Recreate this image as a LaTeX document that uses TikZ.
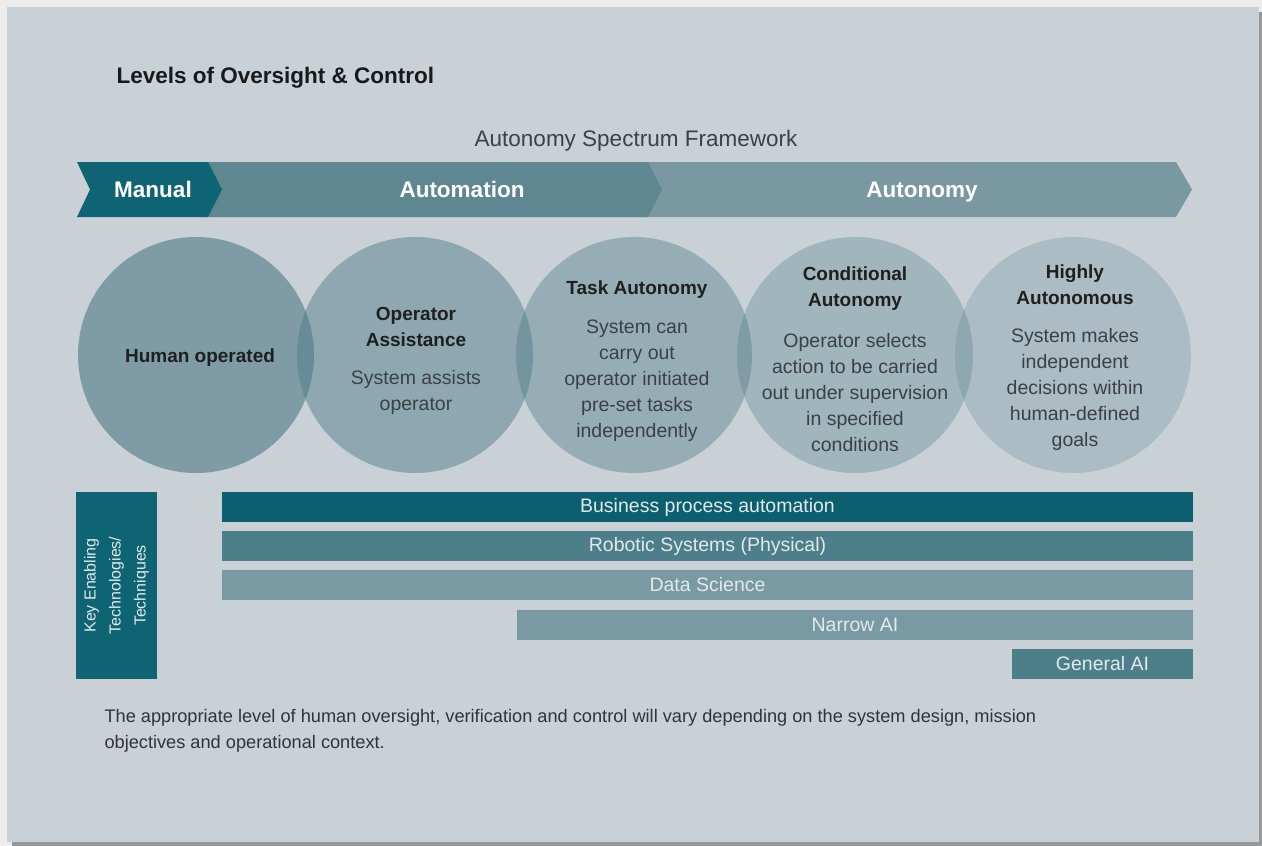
\documentclass[tikz,border=0pt]{standalone}
\usepackage{fontspec}
\setmainfont{Liberation Sans}
\usepackage{tikz}
\definecolor{page}{HTML}{C9D1D7}
\definecolor{shadow}{HTML}{96989A}
\definecolor{manual}{HTML}{0E6472}
\definecolor{automation}{HTML}{5F8792}
\definecolor{autonomy}{HTML}{7A98A2}
\definecolor{discbase}{HTML}{4F7A87}
\definecolor{bodygray}{HTML}{3A4145}
\definecolor{barone}{HTML}{0C5F6E}
\definecolor{bartwo}{HTML}{4C7F89}
\definecolor{barthree}{HTML}{7A9AA3}
\definecolor{bartext}{HTML}{E2E9EB}

\begin{document}
\begin{tikzpicture}[x=1pt,y=-1pt,
    bandtext/.style={anchor=base, font=\fontsize{22.5}{26}\selectfont\bfseries, text=white},
    disc/.style={circle, inner sep=0pt, minimum size=236pt, fill=discbase, fill opacity=#1},
    head/.style={align=center, font=\fontsize{19}{26}\selectfont\bfseries, text=black!88},
    body/.style={align=center, font=\fontsize{19.5}{26}\selectfont, text=bodygray},
    bar/.style={inner sep=0pt, minimum height=30pt, font=\fontsize{19.5}{24}\selectfont, text=bartext}]
    \useasboundingbox (0,0) rectangle (1262,846);

    % page with its drop shadow
    \fill[black!7] (0,0) rectangle (1262,846);
    \fill[shadow] (12,12) rectangle (1262,846);
    \fill[page] (7,7) rectangle (1259,842);

    \node[anchor=west, font=\fontsize{22.5}{24}\selectfont\bfseries, text=black!90] (title) at (113,78) {Levels of Oversight \& Control};
    \node[font=\fontsize{22.5}{26}\selectfont, text=black!75] (framework) at (636,141) {Autonomy Spectrum Framework};

    % spectrum arrows, right to left so each tip lies on top
    \fill[autonomy] (640,162) -- (1176,162) -- (1192,189.5) -- (1176,217) -- (640,217) -- cycle;
    \fill[automation] (200,162) -- (648,162) -- (662,189.5) -- (648,217) -- (200,217) -- cycle;
    \fill[manual] (77,162) -- (208,162) -- (222,189.5) -- (208,217) -- (77,217) -- (90,189.5) -- cycle;
    \node[bandtext] (manualtxt) at (153,197.5) {Manual};
    \node[bandtext] (automationtxt) at (462,197.5) {Automation};
    \node[bandtext] (autonomytxt) at (922,197.5) {Autonomy};

    % levels
    \node[disc=0.61] (human) at (196,355) {};
    \node[disc=0.475] (assist) at (415,355) {};
    \node[disc=0.41] (task) at (634,355) {};
    \node[disc=0.32] (cond) at (855,355) {};
    \node[disc=0.23] (high) at (1073,355) {};

    \node[head] (humanhead) at (200,358) {Human operated};
    \node[head] (assisthead) at (416,327) {Operator\\Assistance};
    \node[body] (assistbody) at (416,392) {System assists\\operator};
    \node[head] (taskhead) at (637,290) {Task Autonomy};
    \node[body] (taskbody) at (637,381) {System can\\carry out\\operator initiated\\pre-set tasks\\independently};
    \node[head] (condhead) at (855,289) {Conditional\\Autonomy};
    \node[body] (condbody) at (855,393) {Operator selects\\action to be carried\\out under supervision\\in specified\\conditions};
    \node[head] (highhead) at (1075,285) {Highly\\Autonomous};
    \node[body] (highbody) at (1075,389) {System makes\\independent\\decisions within\\human-defined\\goals};

    % enabling technologies
    \node[rotate=90, fill=manual, minimum width=187pt, minimum height=81pt, inner sep=0pt,
          align=center, font=\fontsize{16}{25}\selectfont, text=bartext] (keybox) at (116.5,585.5)
          {Key Enabling\\Technologies/\\Techniques};
    \node[bar, fill=barone, minimum width=971pt] (bpa) at (707.5,507) {Business process automation};
    \node[bar, fill=bartwo, minimum width=971pt] (robotic) at (707.5,546) {Robotic Systems (Physical)};
    \node[bar, fill=barthree, minimum width=971pt] (datasci) at (707.5,585) {Data Science};
    \node[bar, fill=barthree, minimum width=676pt] (narrow) at (855,625) {Narrow AI};
    \node[bar, fill=bartwo, minimum width=181pt] (general) at (1102.5,664) {General AI};

    \node[anchor=north west, align=left, font=\fontsize{18.2}{26}\selectfont, text=black!80] (note) at (101,706)
          {The appropriate level of human oversight, verification and control will vary depending on the system design, mission\\objectives and operational context.};
\end{tikzpicture}
\end{document}
